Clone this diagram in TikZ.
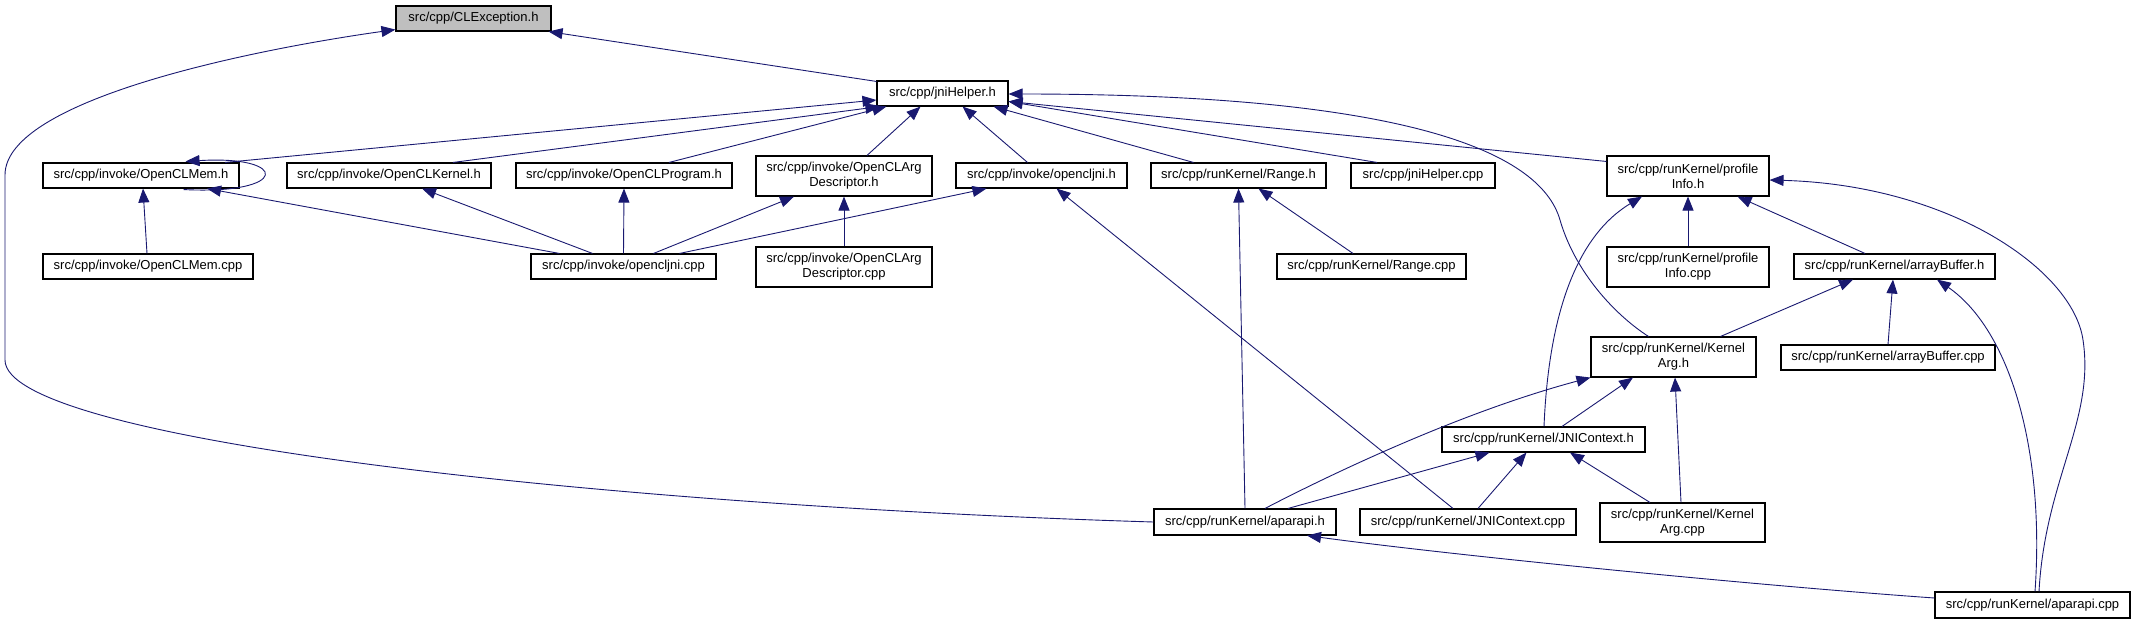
\documentclass[tikz,border=0pt]{standalone}
\usepackage{fontspec}
\setmainfont{Liberation Sans}
\usetikzlibrary{arrows.meta,calc}
\definecolor{edgeblue}{HTML}{191970}
\definecolor{boxgray}{HTML}{BFBFBF}
\begin{document}
\begin{tikzpicture}[x=1pt,y=-1pt,
  fbox/.style={draw=black, line width=1.1pt, fill=white, inner sep=0pt, align=center,
    font=\fontsize{13}{15}\selectfont, minimum height=25},
  edge/.style={draw=edgeblue, line width=0.9pt, -{Triangle[length=14pt,width=11pt]}},
]
\useasboundingbox (0,0) rectangle (2136,624);
% nodes
\node[fbox, fill=boxgray, minimum width=155] (clex) at (473.5,18.5) {src/cpp/CLException.h};
\node[fbox, minimum width=131] (jh) at (942.5,93.5) {src/cpp/jniHelper.h};
\node[fbox, minimum width=196] (memh) at (141,175.5) {src/cpp/invoke/OpenCLMem.h};
\node[fbox, minimum width=204] (kerh) at (389,175.5) {src/cpp/invoke/OpenCLKernel.h};
\node[fbox, minimum width=216] (progh) at (624,175.5) {src/cpp/invoke/OpenCLProgram.h};
\node[fbox, minimum width=176, minimum height=40] (argh) at (844,176) {src/cpp/invoke/OpenCLArg\\Descriptor.h};
\node[fbox, minimum width=171] (jnih) at (1041.5,175.5) {src/cpp/invoke/opencljni.h};
\node[fbox, minimum width=175] (rangeh) at (1238.5,175.5) {src/cpp/runKernel/Range.h};
\node[fbox, minimum width=144] (jhcpp) at (1423,175.5) {src/cpp/jniHelper.cpp};
\node[fbox, minimum width=162, minimum height=40] (profh) at (1688,176) {src/cpp/runKernel/profile\\Info.h};
\node[fbox, minimum width=210] (memcpp) at (148,266.5) {src/cpp/invoke/OpenCLMem.cpp};
\node[fbox, minimum width=185] (jnicpp) at (623.5,266.5) {src/cpp/invoke/opencljni.cpp};
\node[fbox, minimum width=176, minimum height=40] (argcpp) at (844,267) {src/cpp/invoke/OpenCLArg\\Descriptor.cpp};
\node[fbox, minimum width=189] (rangecpp) at (1371.5,266.5) {src/cpp/runKernel/Range.cpp};
\node[fbox, minimum width=162, minimum height=40] (profcpp) at (1688,267) {src/cpp/runKernel/profile\\Info.cpp};
\node[fbox, minimum width=201] (abh) at (1894.5,266.5) {src/cpp/runKernel/arrayBuffer.h};
\node[fbox, minimum width=165, minimum height=40] (kah) at (1673.5,357) {src/cpp/runKernel/Kernel\\Arg.h};
\node[fbox, minimum width=214] (abcpp) at (1888,357.5) {src/cpp/runKernel/arrayBuffer.cpp};
\node[fbox, minimum width=203] (jch) at (1543.5,439.5) {src/cpp/runKernel/JNIContext.h};
\node[fbox, minimum width=182, minimum height=26] (aph) at (1245,522) {src/cpp/runKernel/aparapi.h};
\node[fbox, minimum width=216, minimum height=26] (jccpp) at (1468,522) {src/cpp/runKernel/JNIContext.cpp};
\node[fbox, minimum width=165, minimum height=39] (kacpp) at (1682.5,522.5) {src/cpp/runKernel/Kernel\\Arg.cpp};
\node[fbox, minimum width=195, minimum height=26] (apcpp) at (2032.5,605) {src/cpp/runKernel/aparapi.cpp};
% edges
\draw[edge] ($(jh.north west)+(0,1)$) -- ($(clex.south east)+(-3,0)$);
\draw[edge] (aph.west) .. controls (600,505) and (5,440) .. (5,360) -- (5,175) .. controls (5,100) and (250,50) .. ($(clex.south west)+(0,-2)$);
\draw[edge] ($(memh.north)+(84,0)$) -- ($(jh.west)+(0,6.5)$);
\draw[edge] ($(kerh.north)+(64,0)$) -- ($(jh.south west)+(3,0)$);
\draw[edge] ($(progh.north)+(45,0)$) -- ($(jh.south west)+(10,0)$);
\draw[edge] ($(argh.north)+(23,0)$) -- ($(jh.south)+(-22,0)$);
\draw[edge] ($(jnih.north)+(-14,0)$) -- ($(jh.south)+(20,0)$);
\draw[edge] ($(rangeh.north)+(-45,0)$) -- ($(jh.south east)+(-15,0)$);
\draw[edge] ($(jhcpp.north)+(-46,0)$) -- ($(jh.east)+(0,8)$);
\draw[edge] ($(profh.north west)+(0,6)$) -- ($(jh.east)+(0,8)$);
\draw[edge] ($(kah.north)+(-25,0)$) .. controls (1615,315) and (1575,272) .. (1560,220) .. controls (1540,150) and (1400,94) .. ($(jh.east)+(0,0.5)$);
\draw[edge] ($(memh.south east)+(-56,1)$) .. controls (290,195) and (290,155) .. ($(memh.north east)+(-54,-1)$);
\draw[edge] ($(memcpp.north)+(-1,0)$) -- ($(memh.south)+(2,0)$);
\draw[edge] ($(jnicpp.north west)+(29,0)$) -- ($(memh.south)+(66,0)$);
\draw[edge] ($(jnicpp.north)+(-31,0)$) -- ($(kerh.south)+(33,0)$);
\draw[edge] (jnicpp.north) -- (progh.south);
\draw[edge] ($(jnicpp.north)+(30,0)$) -- ($(argh.south)+(-50,0)$);
\draw[edge] ($(jnicpp.north)+(56,0)$) -- ($(jnih.south west)+(31,0)$);
\draw[edge] (argcpp.north) -- (argh.south);
\draw[edge] ($(jccpp.north)+(-15,0)$) -- ($(jnih.south)+(15,0)$);
\draw[edge] (aph.north) -- (rangeh.south);
\draw[edge] ($(rangecpp.north)+(-18.5,0)$) -- ($(rangeh.south)+(20,0)$);
\draw[edge] ($(jch.north)+(0.5,0)$) .. controls (1548,330) and (1570,240) .. ($(profh.south)+(-46,0)$);
\draw[edge] (profcpp.north) -- (profh.south);
\draw[edge] ($(abh.north)+(-29.5,0)$) -- ($(profh.south east)+(-32,0)$);
\draw[edge] ($(apcpp.north)+(6.5,0)$) .. controls (2045,480) and (2095,420) .. (2083,340) .. controls (2073,270) and (1950,185) .. ($(profh.east)+(0,4)$);
\draw[edge] ($(kah.north east)+(-36,0)$) -- ($(abh.south)+(-41.5,0)$);
\draw[edge] (abcpp.north) -- ($(abh.south)+(-1.5,0)$);
\draw[edge] ($(apcpp.north)+(2.5,0)$) .. controls (2045,450) and (2010,330) .. ($(abh.south)+(42.5,0)$);
\draw[edge] ($(jch.north)+(18.5,0)$) -- ($(kah.south)+(-40.5,0)$);
\draw[edge] ($(aph.north)+(20,0)$) .. controls (1310,485) and (1450,415) .. (kah.south west);
\draw[edge] ($(kacpp.north)+(-1.5,0)$) -- ($(kah.south)+(1.5,0)$);
\draw[edge] ($(aph.north)+(43,0)$) -- ($(jch.south west)+(48,0)$);
\draw[edge] ($(jccpp.north)+(10,0)$) -- ($(jch.south west)+(85,0)$);
\draw[edge] ($(kacpp.north)+(-32.5,0)$) -- ($(jch.south)+(26.5,0)$);
\draw[edge] ($(apcpp.west)+(0,-7)$) .. controls (1750,585) and (1450,555) .. ($(aph.south)+(62,0)$);
\end{tikzpicture}
\end{document}
